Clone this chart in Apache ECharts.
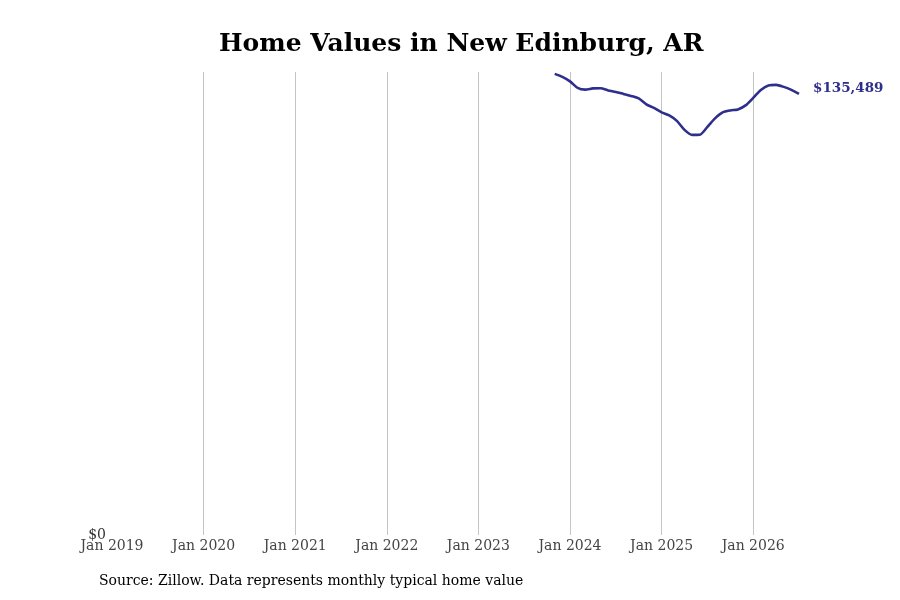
<!DOCTYPE html>
<html>
<head>
<meta charset="utf-8">
<script src="https://cdn.jsdelivr.net/npm/echarts@6/dist/echarts.min.js"></script>
<style>
html,body{margin:0;padding:0;background:#fff;}
#chart{width:900px;height:600px;}
</style>
</head>
<body>
<div id="chart"></div>
<script>
var months = ['2023-11','2023-12','2024-01','2024-02','2024-03','2024-04','2024-05','2024-06','2024-07','2024-08','2024-09','2024-10','2024-11','2024-12','2025-01','2025-02','2025-03','2025-04','2025-05','2025-06','2025-07','2025-08','2025-09','2025-10','2025-11','2025-12','2026-01','2026-02','2026-03','2026-04','2026-05','2026-06','2026-07'];
var homeValues = [141620,140700,139315,137320,136800,137165,137230,136550,136090,135475,134860,134090,132250,131170,129790,128870,127180,124420,122880,122950,125340,127950,129790,130400,130710,131940,134245,136700,138090,138240,137630,136700,135489];
var xTickYears = [2019,2020,2021,2022,2023,2024,2025,2026];
var startYear = 2019;

function monthIndex(s){
  var p = s.split('-');
  return (parseInt(p[0],10)-startYear)*12 + (parseInt(p[1],10)-1);
}
var seriesData = months.map(function(m,i){ return [monthIndex(m), homeValues[i]]; });
var xMax = monthIndex(months[months.length-1]);

var chart = echarts.init(document.getElementById('chart'));
chart.setOption({
  backgroundColor:'#fff',
  animation:false,
  title:{
    text:'Home Values in New Edinburg, AR',
    left:214, top:27,
    textStyle:{fontFamily:'DejaVu Serif', fontWeight:'bold', fontSize:25, color:'#000'}
  },
  graphic:[{
    type:'text', left:99, top:574,
    style:{text:'Source: Zillow. Data represents monthly typical home value', font:'14px "DejaVu Serif"', fill:'#000'}
  }],
  grid:{left:112, right:101, top:72, bottom:65},
  xAxis:{
    type:'value', min:0, max:xMax, interval:12,
    axisLine:{show:false}, axisTick:{show:false},
    splitLine:{show:true, showMinLine:false, showMaxLine:false, lineStyle:{color:'#c4c4c4', width:1}},
    axisLabel:{
      margin:4, fontFamily:'DejaVu Serif', fontSize:14, color:'#444',
      showMaxLabel:false,
      formatter:function(v){
        if (v % 12 !== 0) return '';
        var y = startYear + v/12;
        return xTickYears.indexOf(y) >= 0 ? 'Jan ' + y : '';
      }
    }
  },
  yAxis:{
    type:'value', min:0, max:142200, interval:142200,
    axisLine:{show:false}, axisTick:{show:false}, splitLine:{show:false},
    axisLabel:{margin:6, fontFamily:'DejaVu Serif', fontSize:14, color:'#333',
      formatter:function(v){ return v === 0 ? '$0' : ''; }}
  },
  series:[{
    type:'line', data:seriesData, smooth:0.25, showSymbol:false,
    lineStyle:{color:'#2e2e8c', width:2.6},
    itemStyle:{color:'#2e2e8c'},
    endLabel:{
      show:true, distance:14, offset:[0,-5], fontFamily:'DejaVu Serif', fontWeight:'bold', fontSize:13.5, color:'#2e2e8c',
      formatter:function(p){ return '$' + p.value[1].toLocaleString('en-US'); }
    }
  }]
});
</script>
</body>
</html>
